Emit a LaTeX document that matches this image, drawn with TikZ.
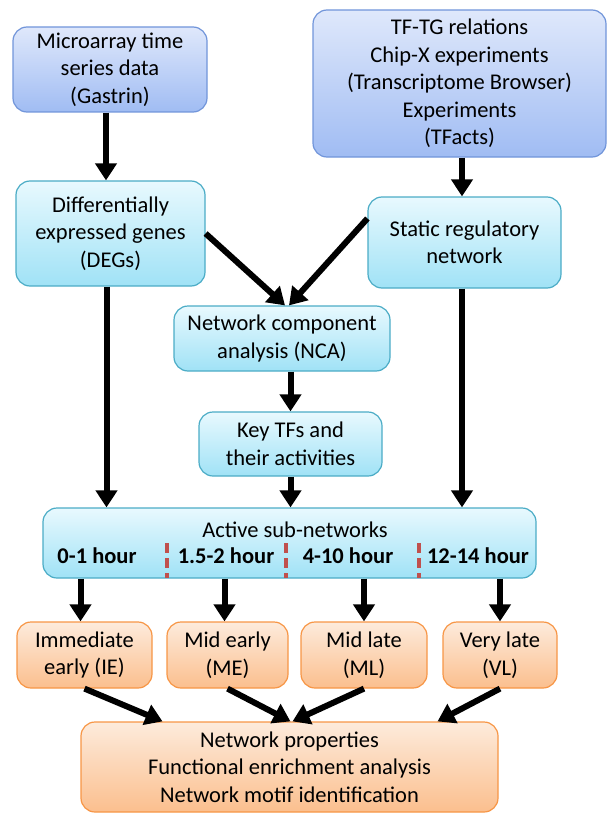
\documentclass[tikz,border=0pt]{standalone}
\usepackage{fontspec}
\setmainfont{Carlito}
\usetikzlibrary{arrows.meta}
\definecolor{bluetop}{HTML}{DFE8FB}
\definecolor{bluebot}{HTML}{A0BCF3}
\definecolor{blueline}{HTML}{7195DA}
\definecolor{cyantop}{HTML}{E8F9FE}
\definecolor{cyanbot}{HTML}{A0E2F6}
\definecolor{cyanline}{HTML}{4BACC6}
\definecolor{orgtop}{HTML}{FDEBDC}
\definecolor{orgbot}{HTML}{FBBF8E}
\definecolor{orgline}{HTML}{F79646}
\definecolor{dashred}{HTML}{C0504D}
\tikzset{
  box/.style={rectangle, rounded corners=14pt, line width=1.2pt, align=center,
    font=\fontsize{22.5}{27.5}\selectfont, inner sep=0pt},
  bluebox/.style={box, draw=blueline, top color=bluetop, bottom color=bluebot},
  cyanbox/.style={box, draw=cyanline, top color=cyantop, bottom color=cyanbot},
  orgbox/.style={box, draw=orgline, top color=orgtop, bottom color=orgbot},
  lbl/.style={font=\fontsize{22.5}{27.5}\selectfont, inner sep=0pt},
  hourlbl/.style={font=\bfseries\fontsize{22.5}{27.5}\selectfont, inner sep=0pt},
  arr/.style={line width=6pt, -{Triangle[length=17pt,width=21pt]}},
  reddash/.style={draw=dashred, line width=3.5pt, dash pattern=on 10pt off 5pt},
}
\begin{document}
\begin{tikzpicture}[x=1pt,y=-1pt]
\useasboundingbox (0,0) rectangle (613,824);

\node[bluebox, minimum width=194pt, minimum height=85pt] (micro) at (110,69.5)
  {Microarray time\\series data\\(Gastrin)};
\node[bluebox, minimum width=293pt, minimum height=147pt] (tftg) at (459.5,83.5)
  {TF-TG relations\\Chip-X experiments\\(Transcriptome Browser)\\Experiments\\(TFacts)};
\node[cyanbox, minimum width=189pt, minimum height=105pt] (degs) at (110.5,233.5)
  {Differentially\\expressed genes\\(DEGs)};
\node[cyanbox, minimum width=193pt, minimum height=91pt] (static) at (464.5,242.5)
  {Static regulatory\\network};
\node[cyanbox, minimum width=216pt, minimum height=65pt] (nca) at (282,338.5)
  {Network component\\analysis (NCA)};
\node[cyanbox, minimum width=183pt, minimum height=64pt] (keytfs) at (290.5,444)
  {Key TFs and\\their activities};
\node[cyanbox, minimum width=493pt, minimum height=70pt] (active) at (289.5,543) {};
\node[lbl] (acttitle) at (295,530) {Active sub-networks};
\node[hourlbl] (h1) at (97,556) {0-1 hour};
\node[hourlbl] (h2) at (226,556) {1.5-2 hour};
\node[hourlbl] (h3) at (348,556) {4-10 hour};
\node[hourlbl] (h4) at (478,556) {12-14 hour};
\draw[reddash] (167,543) -- (167,578);
\draw[reddash] (286,543) -- (286,578);
\draw[reddash] (419,543) -- (419,578);

\node[orgbox, minimum width=135pt, minimum height=66pt] (ie) at (84.5,655)
  {Immediate\\early (IE)};
\node[orgbox, minimum width=121pt, minimum height=66pt] (me) at (227.5,655)
  {Mid early\\(ME)};
\node[orgbox, minimum width=126pt, minimum height=66pt] (ml) at (364,655)
  {Mid late\\(ML)};
\node[orgbox, minimum width=114pt, minimum height=66pt] (vl) at (500,655)
  {Very late\\(VL)};
\node[orgbox, minimum width=417pt, minimum height=90pt] (big) at (289.5,767)
  {Network properties\\Functional enrichment analysis\\Network motif identification};

\draw[arr] ([xshift=-4pt]micro.south) -- ([xshift=-4pt]micro.south |- degs.north);
\draw[arr] ([xshift=2.5pt]tftg.south) -- ([xshift=2.5pt]tftg.south |- static.north);
\draw[arr] (degs.east) -- ([xshift=3pt]nca.north);
\draw[arr] ([yshift=24pt]static.west) -- ([xshift=7pt]nca.north);
\draw[arr] (keytfs.north |- nca.south) -- (keytfs.north);
\draw[arr] (keytfs.south) -- (keytfs.south |- active.north);
\draw[arr] ([xshift=-4pt]degs.south) -- ([xshift=-4pt]degs.south |- active.north);
\draw[arr] ([xshift=-2.5pt]static.south) -- ([xshift=-2.5pt]static.south |- active.north);
\draw[arr] ([xshift=-4pt]ie.north |- active.south) -- ([xshift=-4pt]ie.north);
\draw[arr] ([xshift=-3pt]me.north |- active.south) -- ([xshift=-3pt]me.north);
\draw[arr] (ml.north |- active.south) -- (ml.north);
\draw[arr] (vl.north |- active.south) -- (vl.north);
\draw[arr] (ie.south) -- ([xshift=-127pt]big.north);
\draw[arr] (me.south) -- ([xshift=1pt]big.north);
\draw[arr] (ml.south) -- ([xshift=3pt]big.north);
\draw[arr] (vl.south) -- ([xshift=148pt]big.north);
\end{tikzpicture}
\end{document}
